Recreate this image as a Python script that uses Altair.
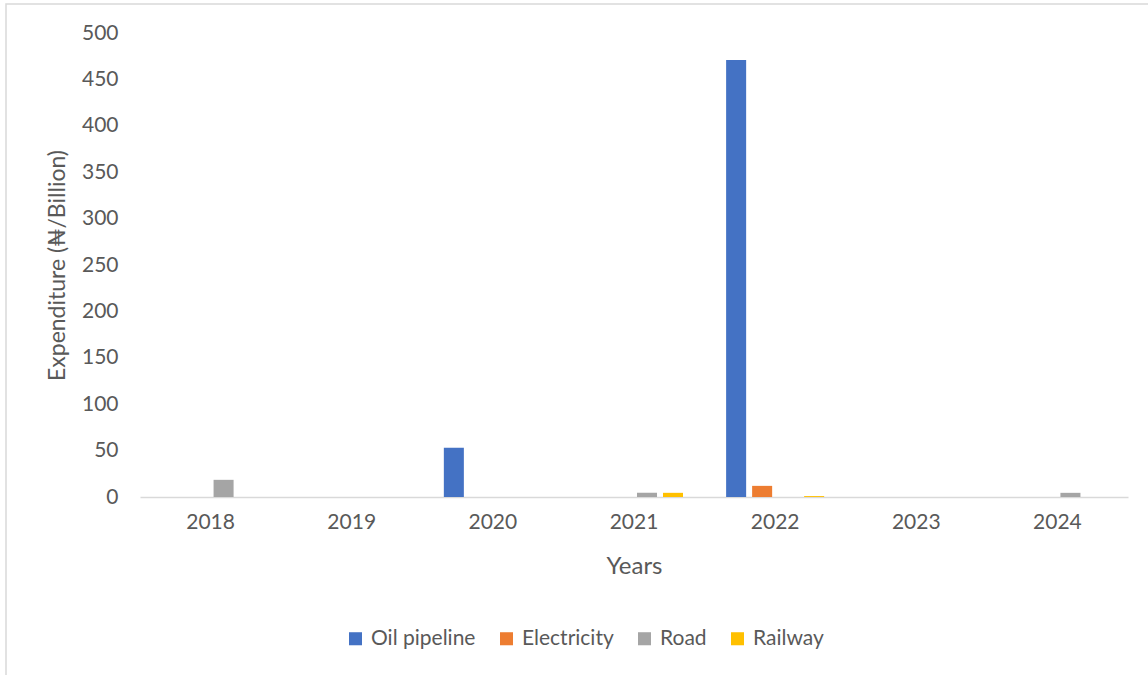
import altair as alt
import pandas as pd

years = ["2018", "2019", "2020", "2021", "2022", "2023", "2024"]
series = ["Oil pipeline", "Electricity", "Road", "Railway"]
oil_pipeline = [0, 0, 53, 0, 471, 0, 0]
electricity = [0, 0, 0, 0, 12, 0, 0]
road = [18.5, 0, 0, 4.5, 0, 0, 4.5]
railway = [0, 0, 0, 4.5, 1, 0, 0]
colors = ["#4472C4", "#ED7D31", "#A5A5A5", "#FFC000"]

rows = []
for name, vals in zip(series, [oil_pipeline, electricity, road, railway]):
    for y, v in zip(years, vals):
        rows.append({"Year": y, "Series": name, "Value": v})
df = pd.DataFrame(rows)

FONT = "Lato"
TXT = "#595959"
W, H = 988, 464

bars = alt.Chart(df).mark_bar().encode(
    x=alt.X("Year:N", sort=years,
            scale=alt.Scale(paddingInner=0.263, paddingOuter=0.1315),
            axis=alt.Axis(title="Years", labelAngle=0, ticks=False, labelPadding=14,
                          domainColor="#D9D9D9", domainWidth=1.5,
                          labelFont=FONT, labelFontSize=21, labelColor=TXT,
                          titleFont=FONT, titleFontSize=24, titleColor=TXT,
                          titleFontWeight="normal", titlePadding=22)),
    xOffset=alt.XOffset("Series:N", sort=series,
                        scale=alt.Scale(paddingInner=0.23, paddingOuter=0.115)),
    y=alt.Y("Value:Q", scale=alt.Scale(domain=[0, 500]),
            axis=alt.Axis(title="Expenditure (₦/Billion)", values=list(range(0, 501, 50)),
                          grid=False, domain=False, ticks=False, labelPadding=22,
                          labelFont=FONT, labelFontSize=21, labelColor=TXT,
                          titleFont=FONT, titleFontSize=23, titleColor=TXT,
                          titleFontWeight="normal", titlePadding=12)),
    color=alt.Color("Series:N", sort=series,
                    scale=alt.Scale(domain=series, range=colors),
                    legend=alt.Legend(title=None, orient="none", direction="horizontal",
                                      legendX=205, legendY=595,
                                      symbolType="square", symbolSize=170,
                                      symbolStrokeWidth=0, columnPadding=20,
                                      labelFont=FONT, labelFontSize=21, labelColor=TXT,
                                      labelOffset=5)),
)

border = alt.Chart(pd.DataFrame({"a": [0]})).mark_rect(
    fill=None, stroke="#D9D9D9", strokeWidth=1.5
).encode(
    x=alt.value(6 - 140), y=alt.value(4 - 33),
    x2=alt.value(1300), y2=alt.value(800),
)

chart = alt.layer(border, bars).properties(
    width=W, height=H,
    background="white",
    padding={"left": 140, "top": 33, "right": 20, "bottom": 178},
    autosize=alt.AutoSizeParams(type="none"),
).configure_view(strokeWidth=0, stroke="transparent")

chart.save("out.html", embed_options={"renderer": "svg", "actions": False})
